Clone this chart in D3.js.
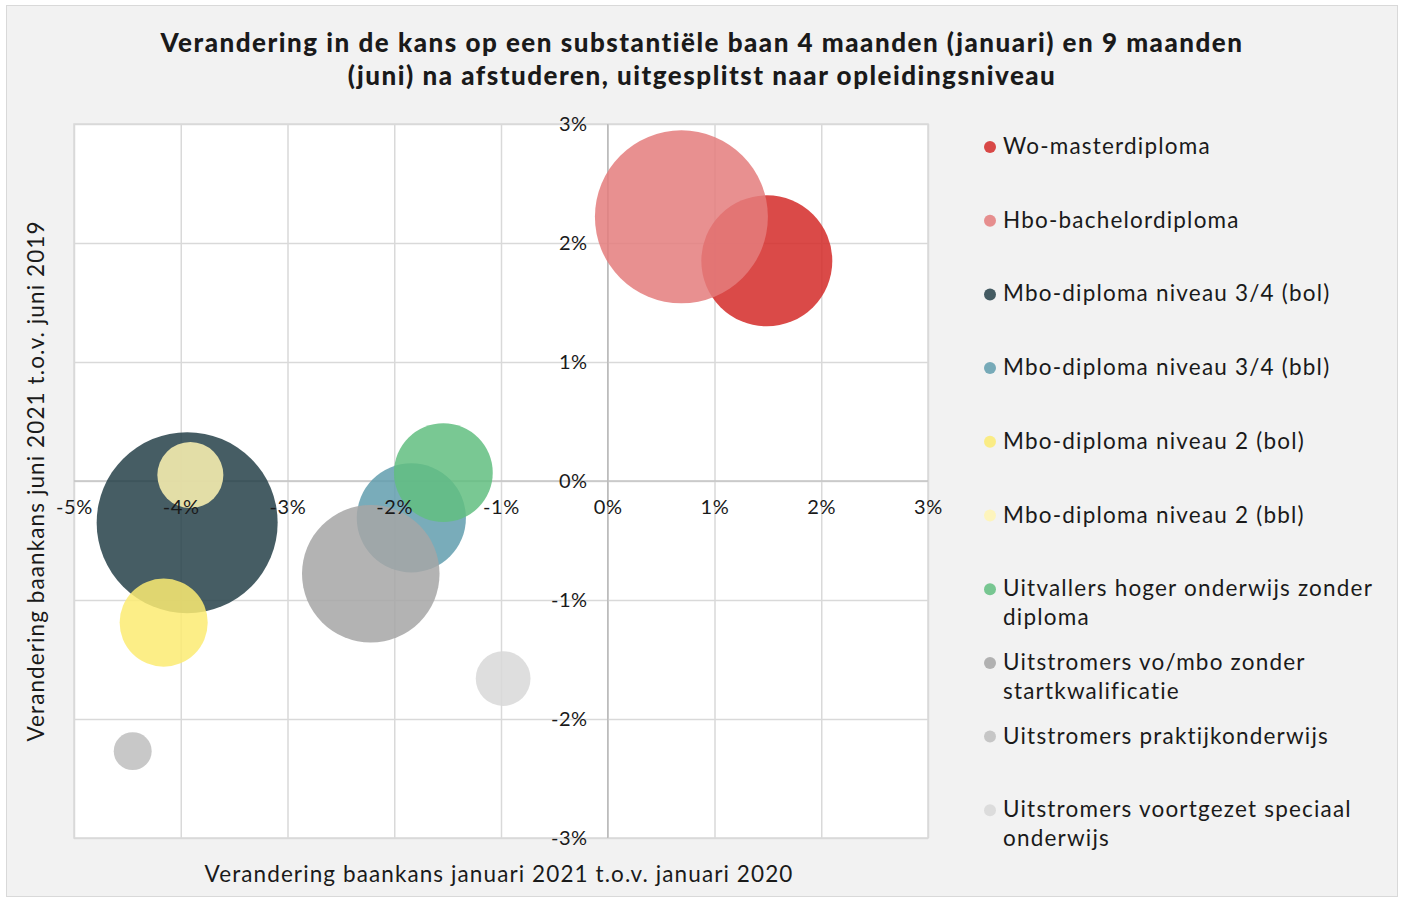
<!DOCTYPE html>
<html>
<head>
<meta charset="utf-8">
<script src="https://cdn.jsdelivr.net/npm/d3@7"></script>
<style>
  html, body { margin: 0; padding: 0; background: #ffffff; }
  svg { display: block; }
  text { font-family: Lato, "Noto Sans", sans-serif; fill: #1a1a1a; }
</style>
</head>
<body>
<svg id="chart" width="1402" height="899"></svg>
<script>
// ---- data ----
const categories = [
  "Wo-masterdiploma",
  "Hbo-bachelordiploma",
  "Mbo-diploma niveau 3/4 (bol)",
  "Mbo-diploma niveau 3/4 (bbl)",
  "Mbo-diploma niveau 2 (bol)",
  "Mbo-diploma niveau 2 (bbl)",
  "Uitvallers hoger onderwijs zonder diploma",
  "Uitstromers vo/mbo zonder startkwalificatie",
  "Uitstromers praktijkonderwijs",
  "Uitstromers voortgezet speciaal onderwijs"
];
// change in job chance January 2021 vs January 2020 (%)
const changeJanuary = [1.49, 0.69, -3.94, -1.84, -4.16, -3.91, -1.54, -2.22, -4.45, -0.98];
// change in job chance June 2021 vs June 2019 (%)
const changeJune = [1.85, 2.22, -0.35, -0.31, -1.19, 0.05, 0.07, -0.78, -2.27, -1.66];
// bubble size (relative group size)
const groupSize = [42.9, 74.8, 81.9, 29.8, 19.4, 10.9, 24.4, 47.3, 3.6, 7.5];
const colors = ["#d32a28", "#e47d7d", "#264149", "#629dae", "#fceb72",
                "#fff4b3", "#62be80", "#a6a6a6", "#bebebe", "#d8d8d8"];
const xTicks = [-5, -4, -3, -2, -1, 0, 1, 2, 3];
const yTicks = [-3, -2, -1, 0, 1, 2, 3];
const titleLines = [
  "Verandering in de kans op een substantiële baan 4 maanden (januari) en 9 maanden",
  "(juni) na afstuderen, uitgesplitst naar opleidingsniveau"
];
const xTitle = "Verandering baankans januari 2021 t.o.v. januari 2020";
const yTitle = "Verandering baankans juni 2021 t.o.v. juni 2019";

// ---- layout ----
const svg = d3.select("#chart");
const plot = { left: 74, top: 124, right: 928, bottom: 838 };

svg.append("rect")
  .attr("x", 6.5).attr("y", 5.5).attr("width", 1391).attr("height", 891)
  .attr("fill", "#f2f2f2").attr("stroke", "#d9d9d9").attr("stroke-width", 1);

const x = d3.scaleLinear().domain([-5, 3]).range([plot.left, plot.right]);
const y = d3.scaleLinear().domain([-3, 3]).range([plot.bottom, plot.top]);
const r = d3.scaleSqrt().domain([0, d3.max(groupSize)]).range([0, 90.5]);

// plot background
svg.append("rect")
  .attr("x", plot.left).attr("y", plot.top)
  .attr("width", plot.right - plot.left).attr("height", plot.bottom - plot.top)
  .attr("fill", "#ffffff").attr("stroke", "#d9d9d9").attr("stroke-width", 1.5);

// gridlines
const gx = svg.append("g")
  .attr("transform", `translate(0,${plot.bottom})`)
  .call(d3.axisBottom(x).tickValues(xTicks).tickSize(-(plot.bottom - plot.top)).tickFormat(""));
gx.select(".domain").remove();
gx.selectAll("line").attr("stroke", "#d9d9d9").attr("stroke-width", 1.5);

const gy = svg.append("g")
  .attr("transform", `translate(${plot.left},0)`)
  .call(d3.axisLeft(y).tickValues(yTicks).tickSize(-(plot.right - plot.left)).tickFormat(""));
gy.select(".domain").remove();
gy.selectAll("line").attr("stroke", "#d9d9d9").attr("stroke-width", 1.5);

// zero axes
svg.append("line")
  .attr("x1", plot.left).attr("x2", plot.right)
  .attr("y1", y(0)).attr("y2", y(0))
  .attr("stroke", "#c4c4c4").attr("stroke-width", 1.5);
svg.append("line")
  .attr("x1", x(0)).attr("x2", x(0))
  .attr("y1", plot.top).attr("y2", plot.bottom)
  .attr("stroke", "#bcbcbc").attr("stroke-width", 1.5);

// bubbles
const data = categories.map((c, i) => ({
  name: c, jan: changeJanuary[i], jun: changeJune[i], size: groupSize[i], color: colors[i]
}));
svg.append("g").selectAll("circle").data(data).join("circle")
  .attr("cx", d => x(d.jan))
  .attr("cy", d => y(d.jun))
  .attr("r", d => r(d.size))
  .attr("fill", d => d.color)
  .attr("fill-opacity", 0.85);

// axis tick labels
const pct = d => `${d}%`;
const ax = svg.append("g")
  .attr("transform", `translate(0,${y(0)})`)
  .call(d3.axisBottom(x).tickValues(xTicks).tickSize(0).tickPadding(19).tickFormat(pct));
ax.select(".domain").remove();
ax.selectAll("text").attr("font-size", 20).attr("fill", "#1a1a1a")
  .style("letter-spacing", "0.6px")
  .style("font-family", "Lato, 'Noto Sans', sans-serif");

const ay = svg.append("g")
  .attr("transform", `translate(${x(0)},0)`)
  .call(d3.axisLeft(y).tickValues(yTicks).tickSize(0).tickPadding(20).tickFormat(pct));
ay.select(".domain").remove();
ay.selectAll("text").attr("font-size", 20).attr("fill", "#1a1a1a")
  .style("letter-spacing", "0.6px")
  .style("font-family", "Lato, 'Noto Sans', sans-serif");

// title
svg.append("g").selectAll("text").data(titleLines).join("text")
  .attr("x", 702).attr("y", (d, i) => 52 + i * 33)
  .attr("text-anchor", "middle")
  .attr("font-size", 26).attr("font-weight", 900)
  .style("letter-spacing", "1.5px")
  .text(d => d);

// axis titles
svg.append("text")
  .attr("x", 499).attr("y", 882)
  .attr("text-anchor", "middle").attr("font-size", 22.5)
  .style("letter-spacing", "1.1px")
  .text(xTitle);
svg.append("text")
  .attr("transform", `translate(44,481) rotate(-90)`)
  .attr("text-anchor", "middle").attr("font-size", 22.5)
  .style("letter-spacing", "1.1px")
  .text(yTitle);

// legend
const legend = svg.append("g");
const legX = 1003, legY0 = 146, legStep = 73.7, maxW = 390, lineH = 29;
data.forEach((d, i) => {
  const cy = legY0 + i * legStep;
  legend.append("circle")
    .attr("cx", 990).attr("cy", cy + 1).attr("r", 6)
    .attr("fill", d.color).attr("fill-opacity", 0.85);
  const t = legend.append("text")
    .attr("x", legX).attr("y", cy + 8).attr("font-size", 22.5)
    .style("letter-spacing", "1.2px");
  const words = d.name.split(" ");
  let line = [];
  let tspan = t.append("tspan").attr("x", legX).attr("dy", 0);
  words.forEach(w => {
    line.push(w);
    tspan.text(line.join(" "));
    if (tspan.node().getComputedTextLength() > maxW && line.length > 1) {
      line.pop();
      tspan.text(line.join(" "));
      line = [w];
      tspan = t.append("tspan").attr("x", legX).attr("dy", lineH).text(w);
    }
  });
});
</script>
</body>
</html>
